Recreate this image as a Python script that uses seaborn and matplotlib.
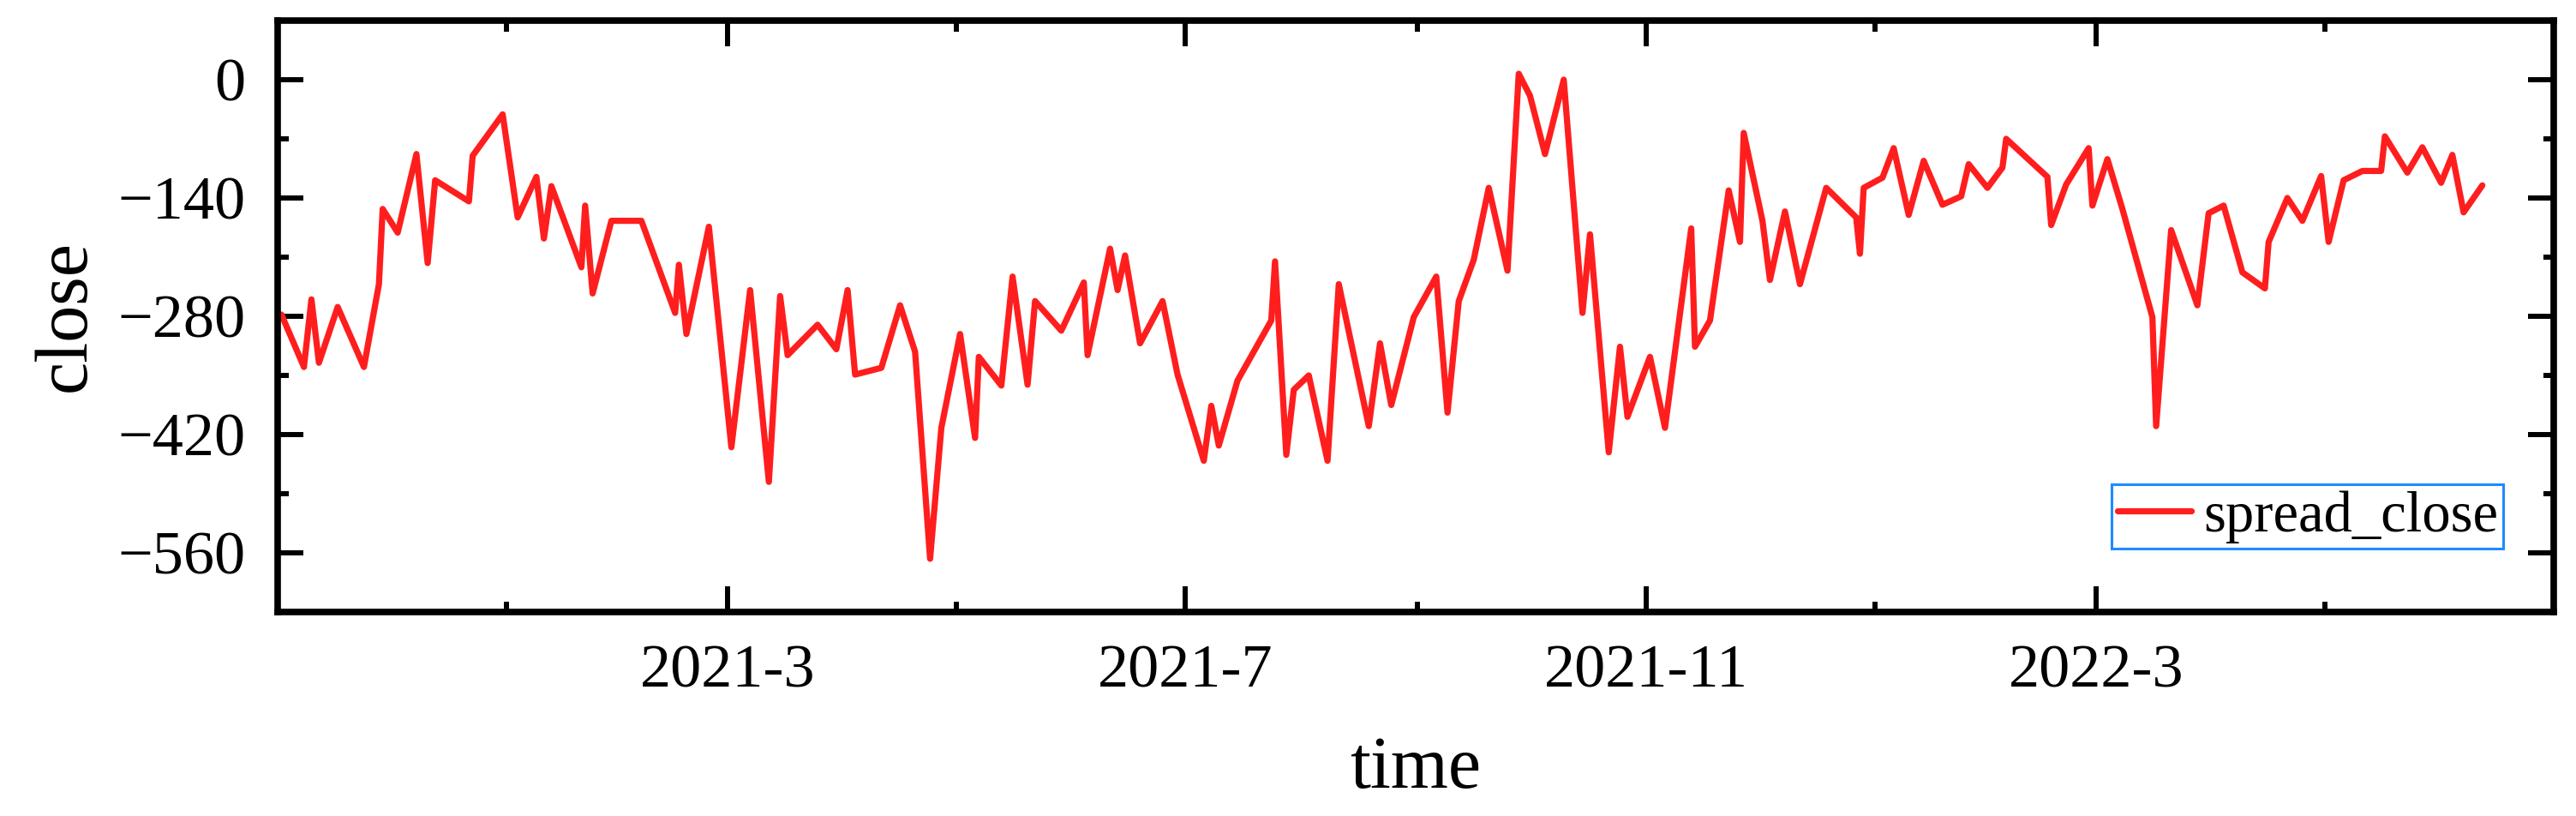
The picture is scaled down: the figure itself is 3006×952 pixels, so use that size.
import pandas as pd
import seaborn as sns
import matplotlib
matplotlib.use('Agg')
import matplotlib.pyplot as plt
import matplotlib.dates as mdates
import matplotlib.ticker as mticker

# values
dates = [
    '2020-11-02', '2020-11-08', '2020-11-10', '2020-11-12', '2020-11-17', '2020-11-24',
    '2020-11-28', '2020-11-29', '2020-12-03', '2020-12-08', '2020-12-11', '2020-12-13',
    '2020-12-22', '2020-12-23', '2020-12-31', '2021-01-04', '2021-01-09', '2021-01-11',
    '2021-01-13', '2021-01-21', '2021-01-22', '2021-01-24', '2021-01-29', '2021-02-06',
    '2021-02-15', '2021-02-16', '2021-02-18', '2021-02-24', '2021-03-02', '2021-03-07',
    '2021-03-12', '2021-03-15', '2021-03-17', '2021-03-25', '2021-03-30', '2021-04-02',
    '2021-04-04', '2021-04-11', '2021-04-16', '2021-04-20', '2021-04-24', '2021-04-27',
    '2021-05-02', '2021-05-06', '2021-05-07', '2021-05-13', '2021-05-16', '2021-05-20',
    '2021-05-22', '2021-05-29', '2021-06-04', '2021-06-05', '2021-06-11', '2021-06-13',
    '2021-06-15', '2021-06-19', '2021-06-25', '2021-06-29', '2021-07-06', '2021-07-08',
    '2021-07-10', '2021-07-15', '2021-07-24', '2021-07-25', '2021-07-28', '2021-07-30',
    '2021-08-03', '2021-08-08', '2021-08-11', '2021-08-19', '2021-08-22', '2021-08-25',
    '2021-08-31', '2021-09-06', '2021-09-09', '2021-09-12', '2021-09-16', '2021-09-20',
    '2021-09-25', '2021-09-28', '2021-10-01', '2021-10-05', '2021-10-10', '2021-10-15',
    '2021-10-17', '2021-10-22', '2021-10-25', '2021-10-27', '2021-11-02', '2021-11-06',
    '2021-11-13', '2021-11-14', '2021-11-18', '2021-11-23', '2021-11-26', '2021-11-27',
    '2021-12-02', '2021-12-04', '2021-12-08', '2021-12-12', '2021-12-19', '2021-12-27',
    '2021-12-28', '2021-12-29', '2022-01-03', '2022-01-06', '2022-01-10', '2022-01-14',
    '2022-01-19', '2022-01-24', '2022-01-26', '2022-01-31', '2022-02-04', '2022-02-05',
    '2022-02-16', '2022-02-17', '2022-02-21', '2022-02-27', '2022-02-28', '2022-03-04',
    '2022-03-08', '2022-03-16', '2022-03-17', '2022-03-21', '2022-03-28', '2022-03-31',
    '2022-04-04', '2022-04-09', '2022-04-15', '2022-04-16', '2022-04-21', '2022-04-25',
    '2022-04-30', '2022-05-02', '2022-05-06', '2022-05-11', '2022-05-16', '2022-05-17',
    '2022-05-23', '2022-05-27', '2022-06-01', '2022-06-04', '2022-06-07', '2022-06-12',
]
spread_close = [
    -278, -340, -260, -335, -269, -340,
    -242, -153, -181, -88, -217, -119,
    -144, -90, -41, -163, -115, -188,
    -126, -222, -149, -253, -167, -167,
    -276, -219, -301, -174, -435, -249,
    -476, -256, -326, -290, -319, -249,
    -349, -341, -267, -322, -567, -412,
    -301, -424, -328, -362, -233, -361,
    -262, -297, -240, -326, -200, -249,
    -208, -312, -262, -349, -451, -386,
    -433, -356, -285, -215, -444, -367,
    -350, -451, -242, -410, -312, -385,
    -281, -233, -394, -262, -213, -128,
    -226, 7, -19, -88, 0, -276,
    -183, -441, -316, -399, -328, -412,
    -176, -316, -285, -131, -192, -63,
    -167, -237, -156, -242, -128, -163,
    -206, -128, -116, -81, -160, -96,
    -148, -138, -100, -128, -104, -70,
    -115, -172, -124, -81, -149, -94,
    -153, -281, -410, -178, -267, -158,
    -149, -228, -247, -192, -140, -167,
    -114, -192, -119, -108, -108, -67,
    -110, -80, -122, -89, -157, -125,
]

x_major = ['2021-03-01', '2021-07-01', '2021-11-01', '2022-03-01']
x_minor = ['2021-01-01', '2021-05-01', '2021-09-01', '2022-01-01', '2022-05-01']
y_major = [0, -140, -280, -420, -560]

df = pd.DataFrame({'time': pd.to_datetime(dates), 'spread_close': spread_close})

sns.set_theme(style='ticks')
plt.rcParams['font.family'] = ['Liberation Serif', 'DejaVu Serif']
plt.rcParams['axes.unicode_minus'] = True
plt.rcParams['text.color'] = 'black'
plt.rcParams['axes.labelcolor'] = 'black'
plt.rcParams['xtick.color'] = 'black'
plt.rcParams['ytick.color'] = 'black'

fig = plt.figure(figsize=(30.06, 9.52), dpi=100)
ax = fig.add_axes([0.1078, 0.25, 0.8835, 0.7248])

sns.lineplot(data=df, x='time', y='spread_close', ax=ax, color='#FF1E1E',
             linewidth=5.2, label='spread_close')

ax.set_xlim(pd.Timestamp('2020-11-01'), pd.Timestamp('2022-07-01'))
ax.set_ylim(-630, 70)
ax.set_yticks(y_major)
ax.yaxis.set_minor_locator(mticker.FixedLocator([-70, -210, -350, -490]))
ax.xaxis.set_major_locator(mticker.FixedLocator(mdates.date2num(pd.to_datetime(x_major))))
ax.xaxis.set_minor_locator(mticker.FixedLocator(mdates.date2num(pd.to_datetime(x_minor))))
ax.xaxis.set_major_formatter(mticker.FuncFormatter(
    lambda v, pos: f"{mdates.num2date(v).year}-{mdates.num2date(v).month}"))

for s in ax.spines.values():
    s.set_linewidth(5.5)
    s.set_color('black')

ax.tick_params(which='both', direction='in', top=True, right=True,
               color='black', labelcolor='black')
ax.tick_params(which='major', length=21.6, width=4.3, labelsize=52, pad=27)
ax.tick_params(which='minor', length=9, width=4.3)

ax.set_xlabel('time', fontsize=62, labelpad=30, color='black')
ax.set_ylabel('close', fontsize=62, labelpad=14, color='black')

leg = ax.legend(loc='lower right', bbox_to_anchor=(0.978, 0.107), borderaxespad=0,
                fontsize=48, frameon=True, fancybox=False, edgecolor='#1E8CFF',
                framealpha=1, handlelength=1.3, handletextpad=0.2, borderpad=0.1)
leg.get_frame().set_linewidth(2.2)
for t in leg.get_texts():
    t.set_color('black')

fig.savefig('out.png', dpi=100)
